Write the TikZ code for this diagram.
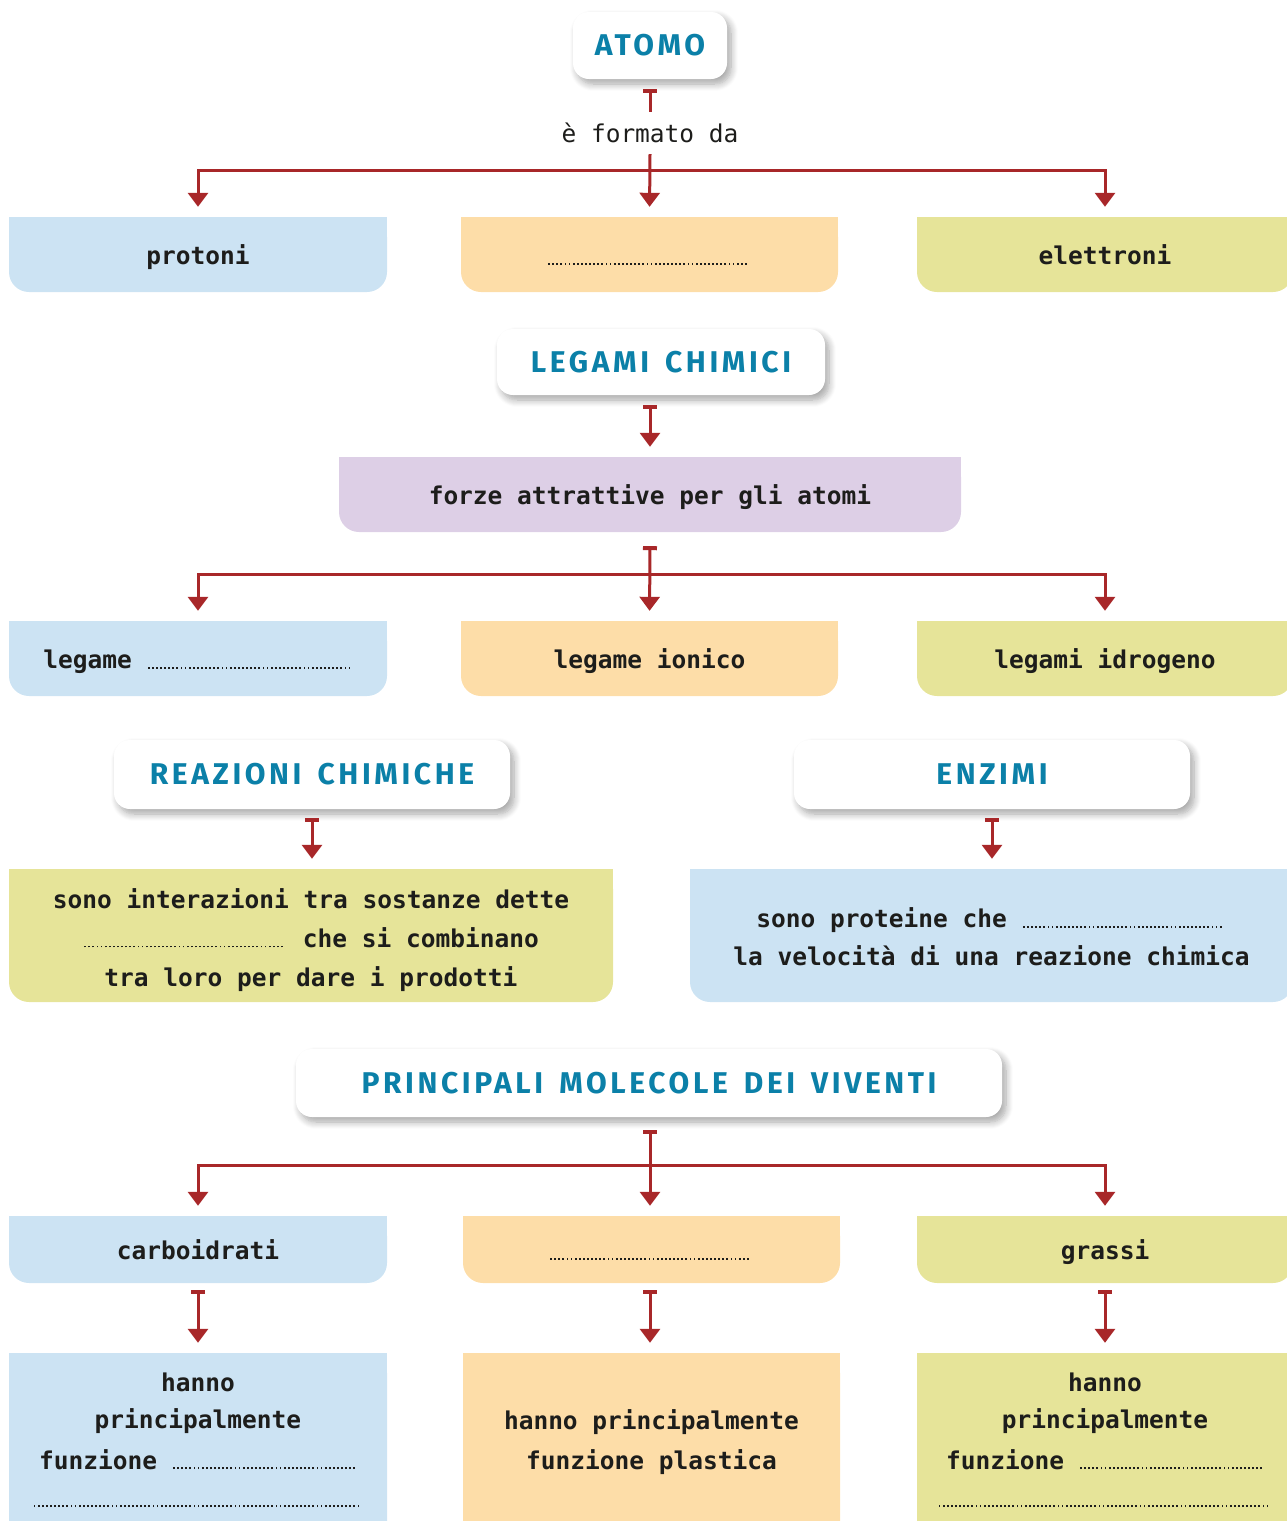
\documentclass[tikz,border=0pt]{standalone}
\usepackage{fontspec}
\usetikzlibrary{arrows.meta,backgrounds,shadows.blur}
\newfontfamily\titlefont{Fira Sans}[LetterSpace=12, WordSpace=1.5]
\newfontfamily\bodyfont{DejaVu Sans Mono}
\definecolor{bgc}{HTML}{F8F8F6}
\definecolor{cblue}{HTML}{CCE3F3}
\definecolor{corange}{HTML}{FDDDA8}
\definecolor{cgreen}{HTML}{E6E499}
\definecolor{cpurple}{HTML}{DDCFE6}
\definecolor{tblue}{HTML}{0B80A8}
\definecolor{ared}{HTML}{A82729}
\definecolor{tx}{HTML}{1D1D1B}
\newcommand\blank[1]{\mbox{\leaders\hbox to 4.1pt{\hss\rule{1.8pt}{1.8pt}\hss}\hskip #1\relax}}
\begin{document}
\begin{tikzpicture}[x=1pt,y=-1pt,
  title/.style={fill=white, rounded corners=16pt, text=tblue, inner sep=0pt,
    font=\titlefont\bfseries\fontsize{30}{34}\selectfont,
    blur shadow={shadow xshift=4pt, shadow yshift=-5pt, shadow blur radius=7pt, shadow blur steps=8, shadow opacity=35}},
  cbox/.style={fill=#1, rounded corners=20pt, inner sep=0pt, text=tx, align=center,
    font=\bodyfont\bfseries\fontsize{24.5}{39}\selectfont},
  one/.style={text height=24pt, text depth=4pt},
  conn/.style={draw=ared, line width=3pt, {Bar[width=14pt,line width=4pt]}-{Triangle[width=20pt,length=14pt]}, shorten >=10pt},
  barline/.style={draw=ared, line width=3pt, {Bar[width=14pt,line width=4pt]}-},
  drop/.style={draw=ared, line width=3pt, -{Triangle[width=20pt,length=14pt]}, shorten >=10pt},
]
\useasboundingbox (0,0) rectangle (1287,1521);
\begin{scope}[on background layer]
  \fill[bgc] (0,0) rectangle (1287,1521);
\end{scope}
% off-page primer for the shadow machinery
\node[title, minimum width=20pt, minimum height=20pt] (primer) at (-400,-400) {};

% ---------- ATOMO ----------
\node[title, minimum width=154pt, minimum height=67pt] (atomo) at (650,45.5) {ATOMO};
\node[inner sep=0pt, minimum height=42pt, text=tx, font=\bodyfont\fontsize{24.5}{28}\selectfont] (formato) at (650,133) {è formato da};
\node[cbox=cblue, one, minimum width=378pt, minimum height=75pt] (protoni) at (198,254.5) {protoni};
\node[cbox=corange, one, minimum width=377pt, minimum height=75pt] (vuoto1) at (649.5,254.5) {\blank{205pt}};
\node[cbox=cgreen, one, minimum width=376pt, minimum height=75pt] (elettroni) at (1105,254.5) {elettroni};
\coordinate (split1) at (650,170);

% ---------- LEGAMI ----------
\node[title, minimum width=328pt, minimum height=66pt] (legami) at (661,362) {LEGAMI CHIMICI};
\node[cbox=cpurple, one, minimum width=622pt, minimum height=75pt] (forze) at (650,494.5) {forze attrattive per gli atomi};
\node[cbox=cblue, one, minimum width=378pt, minimum height=75pt] (legame) at (198,658.5) {legame \blank{206pt}};
\node[cbox=corange, one, minimum width=377pt, minimum height=75pt] (ionico) at (649.5,658.5) {legame ionico};
\node[cbox=cgreen, one, minimum width=376pt, minimum height=75pt] (idrogeno) at (1105,658.5) {legami idrogeno};
\coordinate (split2) at (650,574);

% ---------- REAZIONI / ENZIMI ----------
\node[title, minimum width=396pt, minimum height=69pt] (reazioni) at (312,774.5) {REAZIONI CHIMICHE};
\node[title, minimum width=396pt, minimum height=69pt] (enzimi) at (992,774.5) {ENZIMI};
\node[cbox=cgreen, minimum width=604pt, minimum height=133pt] (reazbox) at (311,935.5)
  {\rule{0pt}{29pt}sono interazioni tra sostanze dette\\ \blank{205pt} che si combinano\\ tra loro per dare i prodotti};
\node[cbox=cblue, minimum width=603pt, minimum height=133pt] (enzbox) at (991.5,935.5)
  {\rule{0pt}{23pt}sono proteine che \blank{205pt}\\[-1pt] la velocità di una reazione chimica};

% ---------- MOLECOLE ----------
\node[title, minimum width=706pt, minimum height=68pt] (molecole) at (649,1083) {PRINCIPALI MOLECOLE DEI VIVENTI};
\node[cbox=cblue, one, minimum width=378pt, minimum height=67pt] (carbo) at (198,1249.5) {carboidrati};
\node[cbox=corange, one, minimum width=377pt, minimum height=67pt] (vuoto2) at (651.5,1249.5) {\blank{205pt}};
\node[cbox=cgreen, one, minimum width=376pt, minimum height=67pt] (grassi) at (1105,1249.5) {grassi};
\coordinate (split3) at (650,1165);

\node[cbox=cblue, minimum width=378pt, minimum height=192pt] (carbofun) at (198,1449)
  {hanno\\[-2pt] principalmente\\[2pt] funzione \blank{185pt}\\[-1pt] \blank{331pt}\rule[-18.5pt]{0pt}{0pt}};
\node[cbox=corange, minimum width=377pt, minimum height=192pt] (protfun) at (651.5,1449)
  {hanno principalmente\\[1pt] funzione plastica\rule[-18pt]{0pt}{0pt}};
\node[cbox=cgreen, minimum width=376pt, minimum height=192pt] (grassifun) at (1105,1449)
  {hanno\\[-2pt] principalmente\\[2pt] funzione \blank{185pt}\\[-1pt] \blank{335pt}\rule[-18.5pt]{0pt}{0pt}};

% square top corners of the coloured boxes
\begin{scope}[on background layer]
  \foreach \n/\c in {protoni/cblue, vuoto1/corange, elettroni/cgreen, forze/cpurple,
      legame/cblue, ionico/corange, idrogeno/cgreen, reazbox/cgreen, enzbox/cblue,
      carbo/cblue, vuoto2/corange, grassi/cgreen, carbofun/cblue, protfun/corange, grassifun/cgreen}
    \fill[\c] (\n.north west) rectangle (\n.east);
\end{scope}

% ---------- connectors ----------
\draw[barline] ([yshift=-10pt]atomo.south) -- (formato.north);
\draw[drop] (formato.south) -- (vuoto1.north);
\draw[drop] (split1) -| (protoni.north);
\draw[drop] (split1) -| (elettroni.north);

\draw[conn] ([yshift=-10pt]legami.south -| forze.north) -- (forze.north);
\draw[conn] ([yshift=-14pt]forze.south) -- (ionico.north);
\draw[drop] (split2) -| (legame.north);
\draw[drop] (split2) -| (idrogeno.north);

\draw[conn] ([yshift=-9pt]reazioni.south) -- (reazbox.north -| reazioni.south);
\draw[conn] ([yshift=-9pt]enzimi.south) -- (enzbox.north -| enzimi.south);

\draw[conn] ([yshift=-13pt]molecole.south -| split3) -- (split3 |- vuoto2.north);
\draw[drop] (split3) -| (carbo.north);
\draw[drop] (split3) -| (grassi.north);

\draw[conn] ([yshift=-7pt]carbo.south) -- (carbofun.north);
\draw[conn] ([yshift=-7pt]vuoto2.south -| split3) -- (split3 |- protfun.north);
\draw[conn] ([yshift=-7pt]grassi.south) -- (grassifun.north);
\end{tikzpicture}
\end{document}
